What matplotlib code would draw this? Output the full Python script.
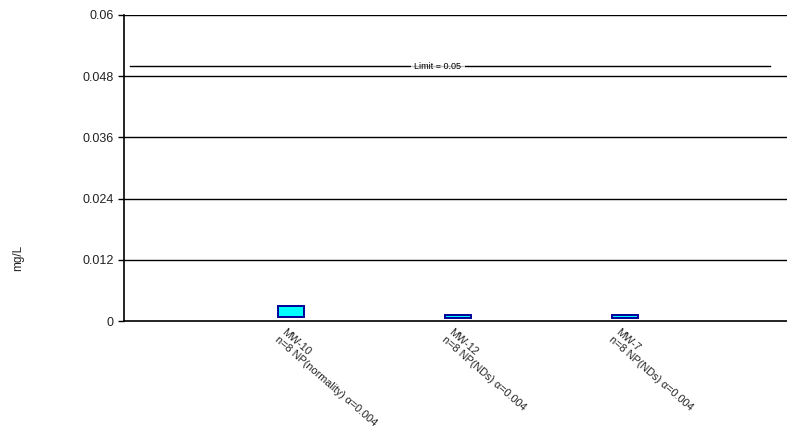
import numpy as np
import matplotlib.pyplot as plt

plt.rcParams["font.family"] = ["Liberation Sans", "DejaVu Sans"]

wells = ["MW-10", "MW-12", "MW-7"]
notes = ["n=8 NP(normality) \u03b1=0.004", "n=8 NP(NDs) \u03b1=0.004", "n=8 NP(NDs) \u03b1=0.004"]
lower = [0.0007, 0.0005, 0.0005]
upper = [0.0029, 0.0012, 0.0011]
limit = 0.05
yticks = [0, 0.012, 0.024, 0.036, 0.048, 0.06]
ytick_labels = ["0", "0.012", "0.024", "0.036", "0.048", "0.06"]

fig = plt.figure(figsize=(7.87, 4.41), dpi=100)
ax = fig.add_axes([0.1576, 0.272, 0.8424, 0.694])

x = np.arange(1, len(wells) + 1)
heights = np.array(upper) - np.array(lower)
ax.bar(x, heights, bottom=lower, width=0.156, color="#00ffff",
       edgecolor="#000099", linewidth=1.4, zorder=3)

ax.set_xlim(0, 3.97)
ax.set_ylim(0, 0.06)
ax.set_yticks(yticks)
ax.set_yticklabels(ytick_labels, fontsize=9, color="#222222")
ax.tick_params(axis="y", length=4, width=1, direction="out")
ax.set_xticks([])
for yv in yticks[1:]:
    ax.axhline(yv, color="black", linewidth=1, zorder=1)

for s in ["top", "right"]:
    ax.spines[s].set_visible(False)
ax.spines["left"].set_linewidth(1.2)
ax.spines["bottom"].set_linewidth(1.2)

# limit line
ax.axhline(limit, xmin=0.036 / 3.97, xmax=3.87 / 3.97, color="black", linewidth=1, zorder=2)
ax.text(1.88, limit, "Limit = 0.05", fontsize=6.5, ha="center", va="center", zorder=4,
        bbox=dict(facecolor="white", edgecolor="none", alpha=0.75, pad=2.5))

for xi, w, n in zip(x, wells, notes):
    ax.text(xi - 0.11, -0.0011, w + "\n" + n, rotation=-41, ha="left", va="top",
            multialignment="left", fontsize=7.8, color="#222222", linespacing=1.05)

fig.text(0.023, 0.415, "mg/L", rotation=90, ha="center", va="center", fontsize=8.5, color="#222222")

fig.savefig("out.png", dpi=100)
